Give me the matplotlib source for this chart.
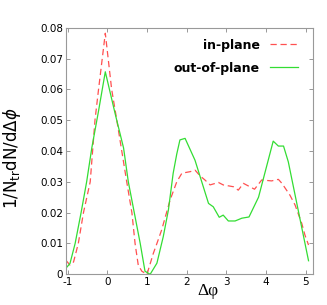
import matplotlib
matplotlib.use("Agg")
import matplotlib.pyplot as plt

# out-of-plane (green solid)
out_x = [-1.04, -0.94, -0.81, -0.66, -0.52, -0.39, -0.22, -0.05, 0.20, 0.41, 0.53, 0.68,
         0.83, 0.95, 1.08, 1.25, 1.41, 1.54, 1.66, 1.75, 1.83, 1.96, 2.21, 2.38, 2.55,
         2.67, 2.82, 2.92, 3.05, 3.22, 3.39, 3.57, 3.81, 4.18, 4.31, 4.44, 4.56, 5.07]
out_y = [0.0020, 0.0035, 0.0100, 0.0200, 0.0300, 0.0410, 0.0530, 0.0657, 0.0520, 0.0410,
         0.0300, 0.0200, 0.0100, 0.0010, 0.0000, 0.0036, 0.0122, 0.0209, 0.0328, 0.0390,
         0.0436, 0.0441, 0.0370, 0.0300, 0.0230, 0.0219, 0.0185, 0.0192, 0.0173, 0.0173,
         0.0182, 0.0186, 0.0250, 0.0432, 0.0416, 0.0416, 0.0365, 0.0044]

# in-plane (red dashed)
in_x = [-1.04, -0.94, -0.85, -0.73, -0.60, -0.43, -0.31, -0.22, -0.05, 0.11, 0.24, 0.32,
        0.49, 0.62, 0.70, 0.78, 0.87, 1.00, 1.16, 1.25, 1.37, 1.58, 1.75, 1.88, 2.09,
        2.21, 2.34, 2.46, 2.59, 2.80, 2.92, 3.18, 3.30, 3.43, 3.71, 3.89, 4.14, 4.31,
        4.40, 4.60, 4.73, 4.90, 4.98, 5.07]
in_y = [0.0045, 0.0030, 0.0040, 0.0100, 0.0200, 0.0300, 0.0500, 0.0600, 0.0782, 0.0600,
        0.0500, 0.0436, 0.0300, 0.0200, 0.0100, 0.0030, 0.0010, 0.0000, 0.0068, 0.0100,
        0.0144, 0.0240, 0.0300, 0.0328, 0.0333, 0.0338, 0.0319, 0.0306, 0.0290, 0.0298,
        0.0290, 0.0284, 0.0273, 0.0295, 0.0276, 0.0306, 0.0303, 0.0308, 0.0295, 0.0257,
        0.0225, 0.0165, 0.0127, 0.0095]

x_ticks = [-1, 0, 1, 2, 3, 4, 5]
y_ticks = [0, 0.01, 0.02, 0.03, 0.04, 0.05, 0.06, 0.07, 0.08]
y_labels = ["0", "0.01", "0.02", "0.03", "0.04", "0.05", "0.06", "0.07", "0.08"]

fig = plt.figure(figsize=(3.27, 3.05), dpi=100)
ax = fig.add_axes([66/327, 1 - 274.3/305, (313.3-66)/327, (274.3-27.7)/305])

ax.plot(in_x, in_y, color="#ff5050", lw=0.9, dashes=(5, 3), label="in-plane")
ax.plot(out_x, out_y, color="#33dd33", lw=0.9, label="out-of-plane")

ax.set_xlim(-1.04, 5.19)
ax.set_ylim(0, 0.08)
ax.set_xticks(x_ticks)
ax.set_xticklabels([str(t) for t in x_ticks])
ax.set_yticks(y_ticks)
ax.set_yticklabels(y_labels)
ax.tick_params(direction="in", length=3, width=0.6, color="#888888",
               labelsize=7.5, top=True, right=True, pad=2)
for s in ax.spines.values():
    s.set_color("#999999")
    s.set_linewidth(0.8)

ax.set_ylabel(r"1/N$_{\rm tr}$dN/d$\Delta\phi$", fontsize=12, labelpad=4)
ax.yaxis.set_label_coords(-0.175, 0.47)
ax.text(0.575, -0.036, "Δφ", transform=ax.transAxes, ha="center", va="top",
        fontsize=12.5, family=["Liberation Serif", "DejaVu Serif"])

leg = ax.legend(loc="upper right", markerfirst=False, frameon=False,
                prop={"weight": "bold", "size": 9}, handlelength=2.3,
                labelspacing=0.8, bbox_to_anchor=(0.96, 0.975), borderaxespad=0)

fig.savefig("out.png", dpi=100)
